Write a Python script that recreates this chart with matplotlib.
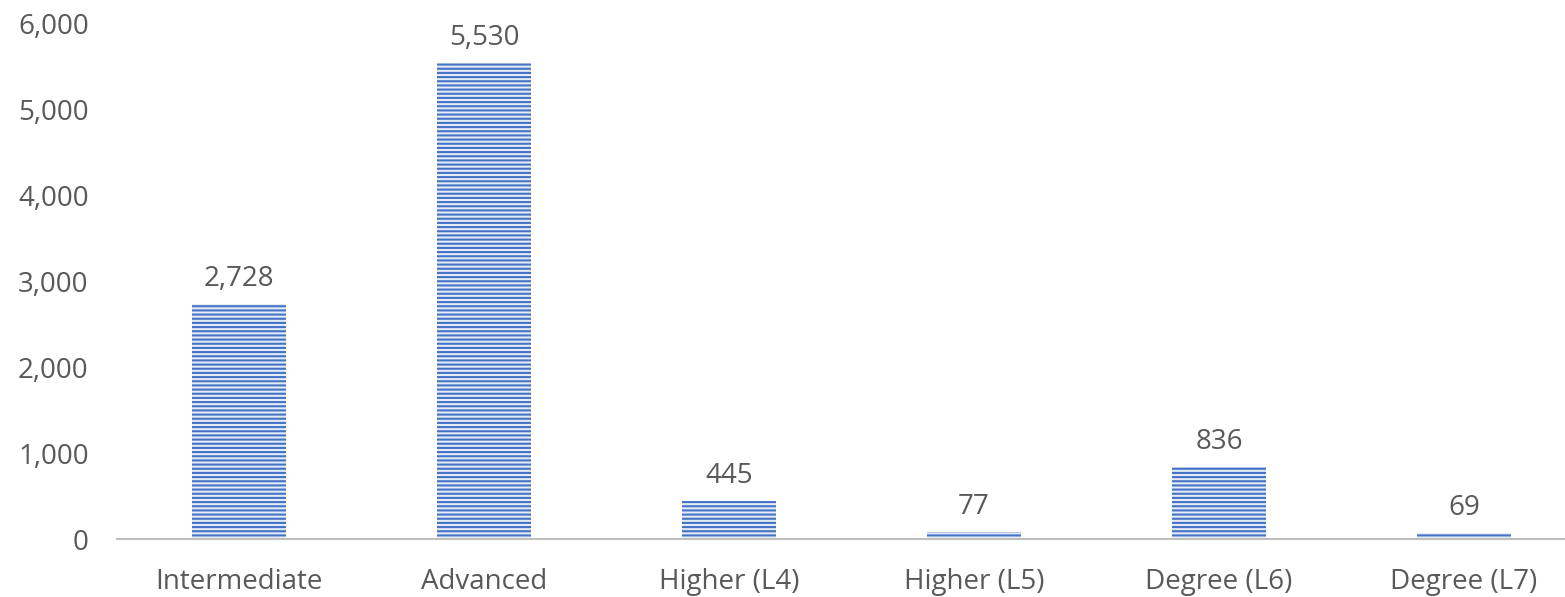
import matplotlib
matplotlib.use("Agg")
import matplotlib.pyplot as plt
from matplotlib.ticker import FuncFormatter

categories = ["Intermediate", "Advanced", "Higher (L4)", "Higher (L5)", "Degree (L6)", "Degree (L7)"]
values = [2728, 5530, 445, 77, 836, 69]
y_ticks = [0, 1000, 2000, 3000, 4000, 5000, 6000]

plt.rcParams["font.family"] = ["Open Sans", "DejaVu Sans"]
plt.rcParams["hatch.linewidth"] = 1.5

W, H = 1565, 597
fig = plt.figure(figsize=(W / 100, H / 100), dpi=100)
left, right = 116.5, 1586.5
bottom, top = 539, 23
ax = fig.add_axes([left / W, (H - bottom) / H, (right - left) / W, (bottom - top) / H])

text_color = "#595959"
fs = 20
x = list(range(len(categories)))
bars = ax.bar(x, values, width=0.384, facecolor="#e4ebf6", edgecolor="#4472C4",
              linewidth=0, hatch="----", zorder=2)

for xi, v in zip(x, values):
    ax.annotate(f"{v:,}", (xi, v), xytext=(0, 8), textcoords="offset points",
                ha="center", va="bottom", fontsize=fs, color=text_color)

ax.set_xlim(-0.5, len(categories) - 0.5)
ax.set_ylim(0, 6000)
ax.set_yticks(y_ticks)
ax.yaxis.set_major_formatter(FuncFormatter(lambda v, p: f"{int(v):,}"))
ax.set_xticks(x)
ax.set_xticklabels(categories)

for s in ["top", "right", "left"]:
    ax.spines[s].set_visible(False)
ax.spines["bottom"].set_color("#BFBFBF")
ax.spines["bottom"].set_linewidth(1.5)
ax.spines["bottom"].set_zorder(3)

ax.tick_params(axis="both", length=0, labelsize=fs, colors=text_color)
ax.tick_params(axis="y", pad=20)
ax.tick_params(axis="x", pad=21)

fig.savefig("out.png", dpi=100)
